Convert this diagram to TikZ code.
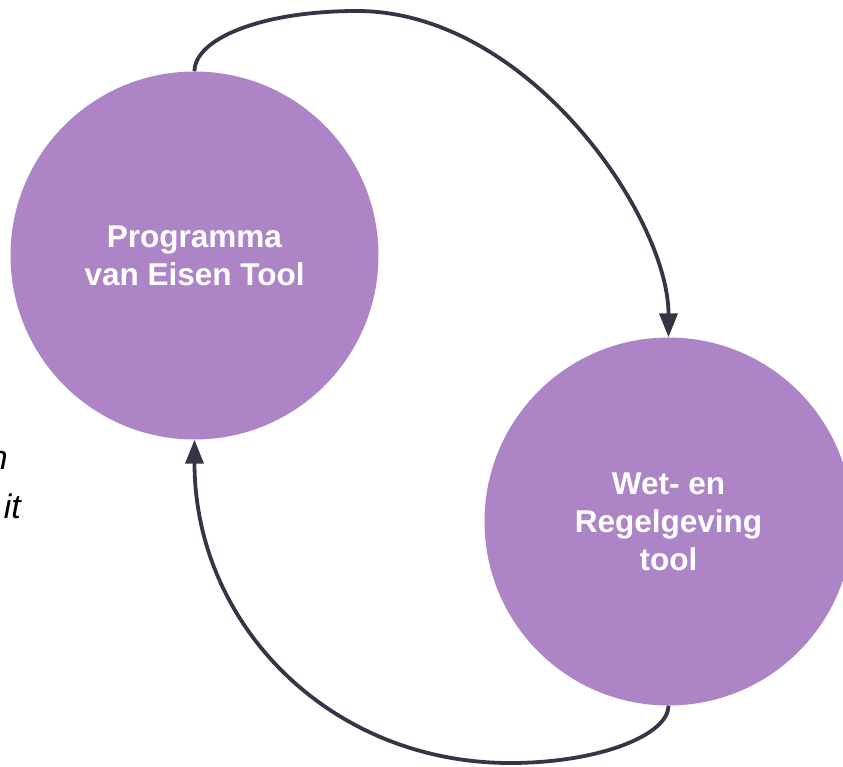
\documentclass[tikz,border=0pt]{standalone}
\usepackage{fontspec}
\setmainfont{Liberation Sans}
\usetikzlibrary{arrows.meta}
\definecolor{bubblecol}{HTML}{AD85C6}
\definecolor{linecol}{HTML}{383447}
\tikzset{
  bubble/.style={circle, fill=bubblecol, draw=none, minimum size=368pt, inner sep=0pt,
    text=white, align=center, font=\fontsize{31.5}{38}\selectfont\bfseries},
  conn/.style={draw=linecol, line width=3.8pt, -{Triangle[length=24pt,width=18pt]}},
  sidetext/.style={inner sep=0pt, anchor=base east, text=black,
    font=\fontsize{34}{40}\selectfont\itshape}
}
\begin{document}
\begin{tikzpicture}[x=1pt,y=-1pt]
\useasboundingbox (0,0) rectangle (843,767);
\node[bubble] (pve) at (194.5,255.5) {Programma\\van Eisen Tool};
\node[bubble] (wr) at (668.5,521.5) {Wet- en\\Regelgeving\\tool};
\node[sidetext] (t1) at (8,469) {n};
\node[sidetext] (t2) at (21,518) {it};
\coordinate (topapex) at (357,11);
\coordinate (botapex) at (510,763);
\draw[conn] (pve.north) .. controls +(0,-32) and +(-97,0) .. (topapex)
  .. controls +(171,0) and +(0,-120) .. (wr.north);
\draw[conn] (wr.south) .. controls +(0,29) and +(90,0) .. (botapex)
  .. controls +(-180,0) and +(0,185) .. (pve.south);
\end{tikzpicture}
\end{document}
